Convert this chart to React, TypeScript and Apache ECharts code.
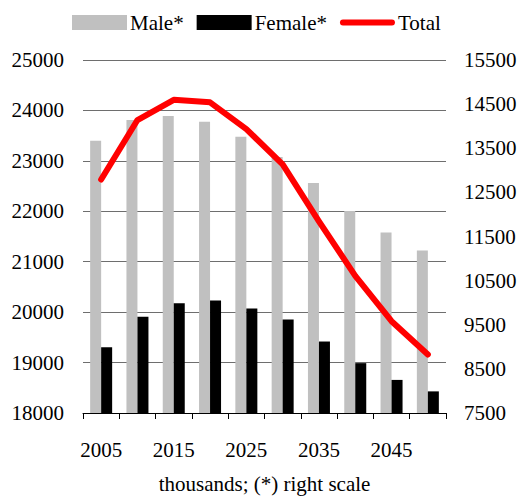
import React, { useEffect, useRef } from "react";
import * as echarts from "echarts";

const years = ["2005", "2010", "2015", "2020", "2025", "2030", "2035", "2040", "2045", "2050"];
const male = [13670, 14140, 14230, 14100, 13760, 13300, 12710, 12080, 11590, 11180];
const female = [8990, 9680, 9990, 10050, 9870, 9620, 9120, 8630, 8250, 7990];
const total = [22630, 23810, 24210, 24160, 23630, 22930, 21800, 20720, 19820, 19160];

const FONT = "Liberation Serif";

export default function App() {
  const ref = useRef<HTMLDivElement>(null);
  useEffect(() => {
    document.body.style.margin = "0";
    if (!ref.current) return;
    const chart = echarts.init(ref.current, null, { renderer: "svg" });
    const txt = { fontFamily: FONT, fontSize: 21, color: "#000" };
    chart.setOption({
      animation: false,
      backgroundColor: "#fff",
      textStyle: { fontFamily: FONT },
      legend: {
        left: 72,
        top: 12,
        padding: 0,
        itemWidth: 55,
        itemHeight: 15,
        itemGap: 13,
        textStyle: { ...txt, padding: [2, 0, 0, -2] },
        data: [
          { name: "Male*", icon: "rect" },
          { name: "Female*", icon: "rect" },
          { name: "Total", icon: "path://M3,0L52,0A3,3,0,0,1,52,6L3,6A3,3,0,0,1,3,0Z" },
        ],
      },
      grid: {
        left: 83,
        right: 72,
        top: 60,
        bottom: 84,
        containLabel: false,
        outerBoundsMode: "none",
      },
      xAxis: {
        type: "category",
        data: years,
        boundaryGap: true,
        axisLine: { lineStyle: { color: "#000", width: 1 } },
        axisTick: { show: true, length: 6, interval: 0, lineStyle: { color: "#000" } },
        axisLabel: { ...txt, interval: 1, margin: 26 },
        name: "thousands; (*) right scale",
        nameLocation: "middle",
        nameGap: 62,
        nameTextStyle: { ...txt, lineHeight: 18 },
      },
      yAxis: [
        {
          type: "value",
          min: 18000,
          max: 25000,
          interval: 1000,
          axisLine: { show: false },
          axisTick: { show: false },
          splitLine: { show: true, lineStyle: { color: "#6e6e6e", width: 1 } },
          axisLabel: {
            ...txt,
            margin: 19,
            padding: [6, 0, 0, 0],
            formatter: (v: number) => String(v),
          },
        },
        {
          type: "value",
          min: 7500,
          max: 15500,
          interval: 500,
          position: "right",
          axisLine: { show: false },
          axisTick: { show: false },
          splitLine: { show: false },
          axisLabel: {
            ...txt,
            margin: 18,
            padding: [6, 0, 0, 0],
            formatter: (v: number) => ((v - 7500) % 1000 === 0 ? String(v) : ""),
          },
        },
      ],
      series: [
        {
          name: "Male*",
          type: "bar",
          yAxisIndex: 1,
          data: male,
          barWidth: 11,
          barGap: "0%",
          itemStyle: { color: "#c0c0c0" },
        },
        {
          name: "Female*",
          type: "bar",
          yAxisIndex: 1,
          data: female,
          barWidth: 11,
          barGap: "0%",
          itemStyle: { color: "#000000" },
        },
        {
          name: "Total",
          type: "line",
          yAxisIndex: 0,
          data: total,
          showSymbol: false,
          symbol: "none",
          itemStyle: { color: "#ff0000" },
          lineStyle: { color: "#ff0000", width: 6, cap: "round", join: "round" },
          z: 5,
        },
      ],
    });
    return () => chart.dispose();
  }, []);
  return <div ref={ref} style={{ width: 518, height: 497 }} />;
}
